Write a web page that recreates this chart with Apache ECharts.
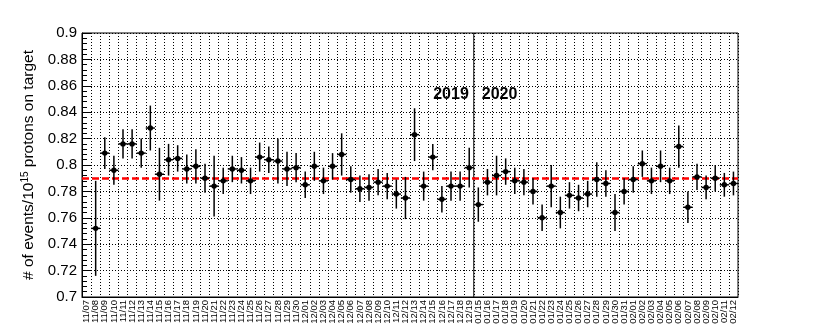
<!DOCTYPE html>
<html>
<head>
<meta charset="utf-8">
<script src="https://cdn.jsdelivr.net/npm/echarts@6/dist/echarts.min.js"></script>
<style>
  html, body { margin: 0; padding: 0; background: #fff; }
  #chart { width: 822px; height: 329px; }
</style>
</head>
<body>
<div id="chart"></div>
<script>
// run days (x categories)
var days = [
	'11/07','11/08','11/09','11/10','11/11','11/12','11/13','11/14','11/15','11/16','11/17','11/18',
	'11/19','11/20','11/21','11/22','11/23','11/24','11/25','11/26','11/27','11/28','11/29','11/30',
	'12/01','12/02','12/03','12/04','12/05','12/06','12/07','12/08','12/09','12/10','12/11','12/12',
	'12/13','12/14','12/15','12/16','12/17','12/18','12/19',
	'01/15','01/16','01/17','01/18','01/19','01/20','01/21','01/22','01/23','01/24','01/25','01/26',
	'01/27','01/28','01/29','01/30','01/31',
	'02/01','02/02','02/03','02/04','02/05','02/06','02/07','02/08','02/09','02/10','02/11','02/12'
];

// events / 1e15 POT per day (11/07 has no entry)
var rate = [
	null, 0.752, 0.809, 0.796, 0.816, 0.816, 0.809, 0.828, 0.793, 0.804, 0.805, 0.797,
	0.799, 0.790, 0.784, 0.788, 0.797, 0.796, 0.788, 0.806, 0.804, 0.803, 0.797, 0.798,
	0.785, 0.799, 0.788, 0.799, 0.808, 0.789, 0.782, 0.783, 0.787, 0.784, 0.778, 0.775,
	0.823, 0.784, 0.806, 0.774, 0.784, 0.784, 0.798,
	0.770, 0.787, 0.792, 0.795, 0.788, 0.787, 0.780, 0.760, 0.784, 0.764, 0.777, 0.775,
	0.778, 0.789, 0.786, 0.764, 0.780,
	0.789, 0.801, 0.788, 0.799, 0.788, 0.814, 0.768, 0.791, 0.783, 0.790, 0.785, 0.786
];

// statistical error
var rateErr = [
	null, 0.036, 0.012, 0.011, 0.011, 0.011, 0.011, 0.017, 0.020, 0.012, 0.010, 0.011,
	0.013, 0.011, 0.023, 0.010, 0.010, 0.010, 0.010, 0.011, 0.010, 0.017, 0.013, 0.011,
	0.010, 0.011, 0.010, 0.010, 0.016, 0.010, 0.010, 0.010, 0.010, 0.010, 0.011, 0.016,
	0.020, 0.011, 0.010, 0.010, 0.011, 0.011, 0.015,
	0.013, 0.010, 0.015, 0.010, 0.010, 0.010, 0.010, 0.010, 0.016, 0.012, 0.010, 0.010,
	0.010, 0.013, 0.010, 0.014, 0.010,
	0.010, 0.010, 0.010, 0.012, 0.010, 0.016, 0.012, 0.010, 0.009, 0.010, 0.009, 0.009
];

var meanRate = 0.79;
var lastDay2019 = '12/19';
var yearLabels = ['2019', '2020'];

var FONT = 'Liberation Sans';

// build [index, value, error] points
var points = [];
for (var i = 0; i < days.length; i++) {
	if (rate[i] === null) continue;
	points.push([i, rate[i], rateErr[i]]);
}

// marker + error bars
var renderPoint = function(params, api) {
	var idx = api.value(0);
	var v = api.value(1);
	var e = api.value(2);
	var c = api.coord([idx, v]);
	var hi = api.coord([idx, v + e]);
	var lo = api.coord([idx, v - e]);
	var w = api.size([1, 0])[0];
	var st = { stroke: '#000', lineWidth: 1.5 };
	return {
		type: 'group',
		children: [
			{ type: 'line', shape: { x1: c[0], y1: hi[1], x2: c[0], y2: lo[1] }, style: st },
			{ type: 'line', shape: { x1: c[0] - w / 2, y1: c[1], x2: c[0] + w / 2, y2: c[1] }, style: st },
			{ type: 'circle', shape: { cx: c[0], cy: c[1], r: 2.7 }, style: { fill: '#000' } }
		]
	};
};

// year divider + year texts
var renderDivider = function(params, api) {
	var idx = api.value(0);
	var w = api.size([1, 0])[0];
	var top = api.coord([idx, 0.9]);
	var bot = api.coord([idx, 0.7]);
	var x = top[0] + w / 2;
	var ty = api.coord([idx, 0.8535])[1];
	var font = 'bold 16px "' + FONT + '"';
	return {
		type: 'group',
		children: [
			{ type: 'line', shape: { x1: x, y1: top[1], x2: x, y2: bot[1] }, style: { stroke: '#000', lineWidth: 1 } },
			{ type: 'text', style: { text: yearLabels[0], x: x - 5, y: ty, font: font, fill: '#000', align: 'right', verticalAlign: 'middle' } },
			{ type: 'text', style: { text: yearLabels[1], x: x + 8, y: ty, font: font, fill: '#000', align: 'left', verticalAlign: 'middle' } }
		]
	};
};

var dotted = { color: '#000', width: 1, type: [1, 2] };

var option = {
	animation: false,
	backgroundColor: '#fff',
	textStyle: { fontFamily: FONT },
	grid: {
		left: 82, right: 84, top: 33, bottom: 32,
		show: true, borderColor: '#000', borderWidth: 1
	},
	xAxis: {
		type: 'category',
		data: days,
		boundaryGap: true,
		axisLine: { lineStyle: { color: '#000', width: 1 } },
		axisTick: { inside: true, length: 4, interval: 0, lineStyle: { color: '#000' } },
		axisLabel: { interval: 0, rotate: 90, fontSize: 9.5, color: '#000', margin: 3, fontFamily: FONT },
		splitLine: { show: true, interval: 0, lineStyle: dotted }
	},
	yAxis: {
		type: 'value',
		min: 0.7, max: 0.9, interval: 0.02,
		name: '# of events/10{sup|15} protons on target',
		nameLocation: 'middle',
		nameGap: 43,
		nameRotate: 90,
		nameTextStyle: {
			fontSize: 15.5, color: '#000', fontFamily: FONT,
			rich: { sup: { fontSize: 10, verticalAlign: 'top', padding: [0, 0, 8, 0], fontFamily: FONT } }
		},
		axisLine: { show: true, lineStyle: { color: '#000', width: 1 } },
		axisTick: { show: true, inside: true, length: 10, lineStyle: { color: '#000' } },
		minorTick: { show: true, splitNumber: 5, length: 5, lineStyle: { color: '#000' } },
		axisLabel: { fontSize: 15, color: '#000', margin: 5, fontFamily: FONT },
		splitLine: { show: true, lineStyle: dotted }
	},
	series: [
		{
			type: 'custom',
			renderItem: renderPoint,
			data: points,
			encode: { x: 0, y: 1 },
			clip: false,
			z: 5,
			markLine: {
				silent: true,
				symbol: 'none',
				label: { show: false },
				lineStyle: { color: '#f00', type: [7, 3], width: 2.5 },
				data: [{ yAxis: meanRate }]
			}
		},
		{
			type: 'custom',
			renderItem: renderDivider,
			data: [[days.indexOf(lastDay2019)]],
			encode: { x: 0 },
			z: 4
		}
	]
};

var myChart = echarts.init(document.getElementById('chart'));
myChart.setOption(option);
</script>
</body>
</html>
